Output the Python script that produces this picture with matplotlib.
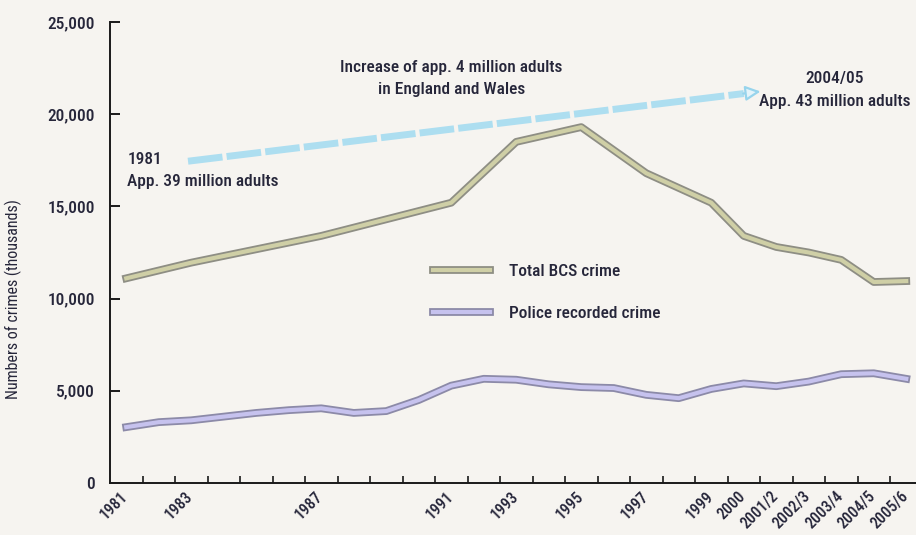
import numpy as np
import matplotlib
matplotlib.use("Agg")
from matplotlib import pyplot as plt
from matplotlib import patheffects as pe

plt.rcParams['font.family'] = ['Roboto Condensed', 'Roboto', 'DejaVu Sans']
plt.rcParams['font.weight'] = 500

# categories along the x axis (years, then financial years)
categories = ['1981', '1982', '1983', '1984', '1985', '1986', '1987', '1988',
              '1989', '1990', '1991', '1992', '1993', '1994', '1995', '1996',
              '1997', '1998', '1999', '2000', '2001/2', '2002/3', '2003/4',
              '2004/5', '2005/6']
shown_labels = ['1981', '1983', '1987', '1991', '1993', '1995', '1997', '1999',
                '2000', '2001/2', '2002/3', '2003/4', '2004/5', '2005/6']

# BCS survey years only
bcs_years = ['1981', '1983', '1987', '1991', '1993', '1995', '1997', '1999',
             '2000', '2001/2', '2002/3', '2003/4', '2004/5', '2005/6']
bcs_crime = [11100, 11950, 13400, 15200, 18500, 19300, 16800, 15200,
             13400, 12800, 12500, 12100, 10900, 10950]

# police recorded crime, every year
police_crime = [3030, 3300, 3400, 3600, 3800, 3950, 4050, 3800, 3900, 4500,
                5280, 5650, 5600, 5350, 5200, 5150, 4780, 4600, 5100, 5400,
                5250, 5500, 5900, 5950, 5650]

yticks = [0, 5000, 10000, 15000, 20000, 25000]

bg = '#f6f4f0'
txt = '#26263a'
bcs_outer, bcs_inner = '#8e8e84', '#cfcfa6'
pol_outer, pol_inner = '#8c8aa8', '#c6c2ee'

fig = plt.figure(figsize=(9.16, 5.35), dpi=100, facecolor=bg)
ax = fig.add_axes([110/916, 52/535, 812.5/916, 461/535], facecolor=bg)

xpos = np.arange(len(categories))
bcs_x = [categories.index(c) for c in bcs_years]

ax.plot(bcs_x, bcs_crime, color=bcs_inner, lw=3.0, solid_joinstyle='round',
        label='Total BCS crime',
        path_effects=[pe.Stroke(linewidth=5.6, foreground=bcs_outer), pe.Normal()])
ax.plot(xpos, police_crime, color=pol_inner, lw=3.0, solid_joinstyle='round',
        label='Police recorded crime',
        path_effects=[pe.Stroke(linewidth=5.6, foreground=pol_outer), pe.Normal()])

ax.set_xlim(-0.5, len(categories) - 0.5)
ax.set_ylim(0, 25000)

for s in ['top', 'right']:
    ax.spines[s].set_visible(False)
for s in ['left', 'bottom']:
    ax.spines[s].set_linewidth(1.4)
    ax.spines[s].set_color('#1a1a1a')

# boundary ticks (no label) + category labels (invisible minor ticks,
# nudged a little left so the rotated text ends under the category)
ax.set_xticks(xpos[:-1] + 0.5)
ax.set_xticklabels([])
ax.tick_params(axis='x', which='major', direction='in', length=5, width=1.2, color='#1a1a1a')
ax.set_xticks(xpos - 0.18, minor=True)
ax.set_xticklabels([c if c in shown_labels else '' for c in categories], minor=True,
                   rotation=45, ha='right', va='top', rotation_mode='anchor',
                   fontsize=11.5, color=txt)
ax.tick_params(axis='x', which='minor', length=0, pad=4)

ax.set_yticks(yticks)
ax.set_yticklabels(['{:,}'.format(v) for v in yticks], fontsize=12.5, color=txt)
ax.tick_params(axis='y', direction='in', length=7, width=1.4, color='#1a1a1a', pad=11)
ax.set_ylabel('Numbers of crimes (thousands)', fontsize=11.5, color=txt)
ax.yaxis.set_label_coords(-88/812.5, 0.40)

# population arrow
arrow_start = (1.9, 17450)
arrow_tip = (19.6, 21250)
arrow_col = '#addef0'
ax.plot([arrow_start[0], 19.0], [arrow_start[1], 21120], color=arrow_col, lw=5.0,
        linestyle=(0, (5, 0.6)), solid_capstyle='butt', dash_capstyle='butt', zorder=1)
ax.annotate('', xy=arrow_tip, xytext=(18.9, 21100),
            arrowprops=dict(arrowstyle='-|>,head_length=0.9,head_width=0.45',
                            lw=1.6, ec='#97d4ec', fc='#e4f4fa'), zorder=1)

ax.text(0.03, 16950, '1981\nApp. 39 million adults', ha='left', va='center',
        fontsize=12.5, color=txt, linespacing=1.6)
ax.text(10.0, 21950, 'Increase of app. 4 million adults\nin England and Wales',
        ha='center', va='center', fontsize=12.5, color=txt, linespacing=1.6)
ax.text(21.8, 21300, '2004/05\nApp. 43 million adults', ha='center', va='center',
        fontsize=12.5, color=txt, linespacing=1.65)

ax.legend(loc='upper left', bbox_to_anchor=(433/916, 1 - 264/535),
          bbox_transform=fig.transFigure, frameon=False, fontsize=12.5,
          handlelength=3.3, handletextpad=1.1, labelspacing=1.55,
          borderpad=0, borderaxespad=0, labelcolor=txt)

fig.savefig('out.png', dpi=100, facecolor=bg)
